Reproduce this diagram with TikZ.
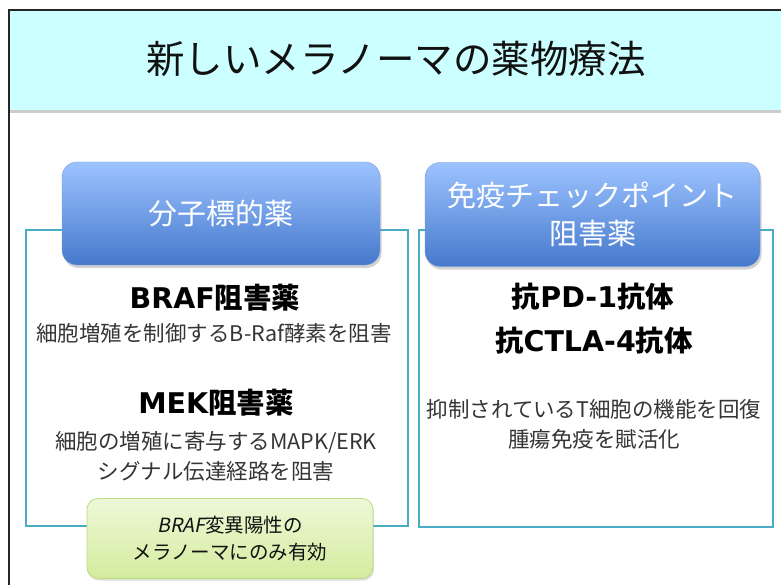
\documentclass[tikz,border=0pt]{standalone}
\usepackage{fontspec}
\setmainfont{Noto Sans CJK JP}
\newfontfamily\jpit[FakeSlant=0.2]{Noto Sans CJK JP}
\newfontfamily\lat{DejaVu Sans}
\usetikzlibrary{shadows}
\definecolor{bandfill}{HTML}{CCFFFF}
\definecolor{panelline}{HTML}{4BACC6}
\definecolor{hdrtop}{HTML}{9DC3FF}
\definecolor{hdrbot}{HTML}{4579CC}
\definecolor{grntop}{HTML}{EEF8D8}
\definecolor{grnbot}{HTML}{D3EC9E}
\definecolor{grnline}{HTML}{BBDB85}
\definecolor{txt}{HTML}{111111}
\tikzset{
  panel/.style={draw=panelline, line width=1.8pt, fill=white, inner sep=0pt},
  hdr/.style={rounded corners=15pt, top color=hdrtop, bottom color=hdrbot, draw=hdrbot!70,
    line width=0.4pt, text=white, align=center, inner sep=0pt,
    font=\fontsize{29}{38}\selectfont,
    drop shadow={shadow xshift=1.5pt, shadow yshift=-3pt, opacity=0.35}},
  grn/.style={rounded corners=11pt, top color=grntop, bottom color=grnbot, draw=grnline,
    line width=0.8pt, align=center, inner sep=0pt, text=txt,
    font=\fontsize{19.5}{27}\selectfont,
    drop shadow={shadow xshift=1pt, shadow yshift=-2pt, opacity=0.25}},
  bigb/.style={font=\fontsize{28.5}{32}\selectfont\bfseries, text=black, inner sep=0pt},
  body/.style={font=\fontsize{21.5}{30}\selectfont, text=txt!85, inner sep=0pt, align=center},
}
\begin{document}
\begin{tikzpicture}[x=1pt,y=-1pt]
\useasboundingbox (0,0) rectangle (781,585);
\fill[white] (0,0) rectangle (781,585);
% title band
\fill[gray!40] (9,110) rectangle (781,113);
\node[fill=bandfill, minimum width=772pt, minimum height=100pt, inner sep=0pt, anchor=north west] (band) at (9,10) {};
\draw[line width=1.6pt, black!85] (781,10) -- (9,10) -- (9,585);
\node[font=\fontsize{38.5}{44}\selectfont, text=txt, inner sep=0pt] (title) at (396,59) {新しいメラノーマの薬物療法};
% panels
\node[panel, minimum width=382pt, minimum height=296pt, anchor=north west] (lpanel) at (25,229) {};
\node[panel, minimum width=354pt, minimum height=297pt, anchor=north west] (rpanel) at (418,229) {};
% headers
\node[hdr, minimum width=318pt, minimum height=103pt] (lhdr) at (221,213.5) {分子標的薬};
\node[hdr, minimum width=335pt, minimum height=104pt] (rhdr) at (592.5,214.5) {免疫チェックポイント\\阻害薬};
% left texts
\node[bigb] (braf) at (215,298) {{\lat\bfseries BRAF}阻害薬};
\node[body] (brafd) at (214,333) {細胞増殖を制御するB-Raf酵素を阻害};
\node[bigb] (mek) at (216,403) {{\lat\bfseries MEK}阻害薬};
\node[body] (mekd) at (216,456) {細胞の増殖に寄与するMAPK/ERK\\シグナル伝達経路を阻害};
% green note
\node[grn, minimum width=286pt, minimum height=80pt] (note) at (230,538.5) {{\jpit BRAF}変異陽性の\\メラノーマにのみ有効};
% right texts
\node[bigb] (pd1) at (593,297) {抗{\lat\bfseries PD-1}抗体};
\node[bigb] (ctla) at (594,341) {抗{\lat\bfseries CTLA-4}抗体};
\node[body] (rd) at (594,424) {抑制されているT細胞の機能を回復\\腫瘍免疫を賦活化};
\end{tikzpicture}
\end{document}
